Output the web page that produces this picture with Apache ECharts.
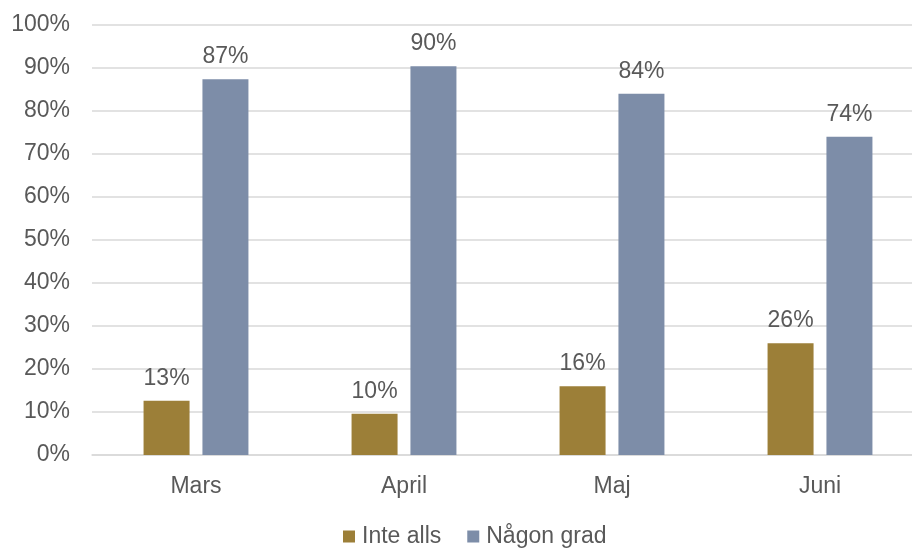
<!DOCTYPE html>
<html><head><meta charset="utf-8">
<script src="https://cdn.jsdelivr.net/npm/echarts@6/dist/echarts.min.js"></script>
<style>html,body{margin:0;padding:0;background:#fff;overflow:hidden;width:912px;height:548px}#c{width:924px;height:548px}</style>
</head><body><div id="c"></div>
<script>
const categories = ['Mars', 'April', 'Maj', 'Juni'];
const inteAlls = [12.6, 9.6, 16, 26];
const nagonGrad = [87.4, 90.4, 84, 74];
const yTicks = [0, 10, 20, 30, 40, 50, 60, 70, 80, 90, 100];

const font = "'Liberation Sans', Arial, sans-serif";
const txt = '#595959';
const chart = echarts.init(document.getElementById('c'));
const lbl = {
  show: true, position: 'top', distance: 11, color: txt, fontSize: 23, fontFamily: font,
  formatter: p => Math.round(p.value) + '%'
};
chart.setOption({
  animation: false,
  grid: { left: 92, right: 0, top: 25, bottom: 93, containLabel: false },
  legend: {
    bottom: -5, left: 338, itemWidth: 12, itemHeight: 12, itemGap: 26,
    icon: 'rect',
    textStyle: { color: txt, fontSize: 23, fontFamily: font, padding: [0, 0, 0, 2] },
    data: ['Inte alls', 'Någon grad']
  },
  xAxis: {
    type: 'category', data: categories,
    axisLine: { lineStyle: { color: '#D9D9D9', width: 1.5 } },
    axisTick: { show: false },
    axisLabel: { color: txt, fontSize: 23, fontFamily: font, margin: 20 }
  },
  yAxis: {
    type: 'value', min: 0, max: 100, interval: 10,
    axisLine: { show: false }, axisTick: { show: false },
    splitLine: { lineStyle: { color: '#D9D9D9', width: 1.5 } },
    axisLabel: {
      color: txt, fontSize: 23, fontFamily: font, margin: 22,
      formatter: v => yTicks.includes(v) ? v + '%' : ''
    }
  },
  series: [
    { name: 'Inte alls', type: 'bar', data: inteAlls, barWidth: 46, barGap: '28%',
      itemStyle: { color: '#9C7F38' }, label: lbl },
    { name: 'Någon grad', type: 'bar', data: nagonGrad, barWidth: 46, barGap: '28%',
      itemStyle: { color: '#7D8DA8' }, label: lbl }
  ]
});
</script></body></html>
